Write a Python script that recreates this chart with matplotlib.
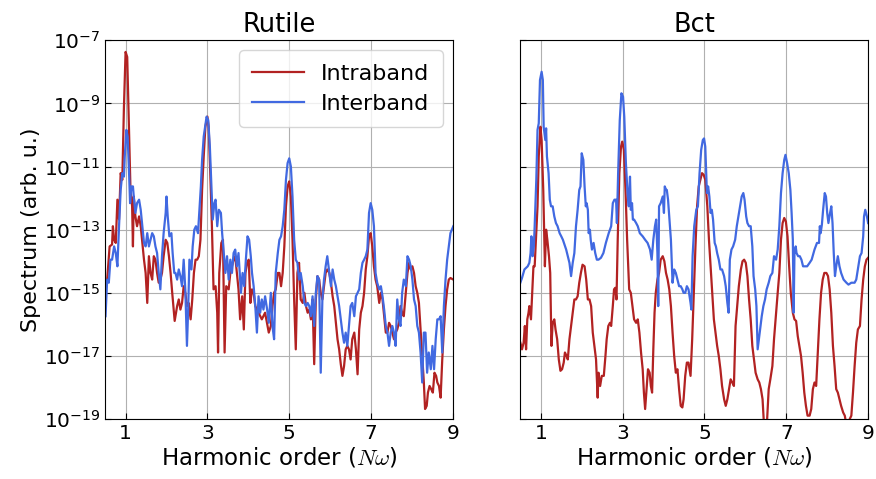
import matplotlib

matplotlib.use("Agg")
import matplotlib.pyplot as plt
import numpy as np

plt.rcParams["font.family"] = ["DejaVu Sans"]
plt.rcParams["mathtext.fontset"] = "cm"

TITLES = ["Rutile", "Bct"]
LABELS = ["Intraband", "Interband"]
COLORS = ["#b22222", "#4169e1"]

# Rutile, intraband (x in harmonic order, y as log10 of spectrum)
rut_intra_x = [0.50, 0.55, 0.61, 0.67, 0.69, 0.72, 0.76, 0.80, 0.84, 0.88, 0.92, 0.96, 1.00, 1.04, 1.08, 1.12,
               1.16, 1.18, 1.20, 1.24, 1.28, 1.33, 1.37, 1.41, 1.45, 1.49, 1.53, 1.57, 1.61, 1.65, 1.69, 1.73,
               1.77, 1.81, 1.85, 1.89, 1.93, 1.98, 2.02, 2.06, 2.10, 2.14, 2.20, 2.26, 2.30, 2.34, 2.38, 2.42,
               2.46, 2.50, 2.54, 2.59, 2.63, 2.67, 2.71, 2.75, 2.79, 2.83, 2.87, 2.91, 2.95, 3.00, 3.03, 3.07,
               3.11, 3.15, 3.20, 3.24, 3.26, 3.29, 3.34, 3.38, 3.42, 3.46, 3.52, 3.56, 3.60, 3.64, 3.68, 3.72,
               3.76, 3.80, 3.85, 3.89, 3.93, 3.97, 4.01, 4.05, 4.09, 4.13, 4.17, 4.25, 4.33, 4.41, 4.50, 4.55,
               4.59, 4.63, 4.67, 4.72, 4.76, 4.80, 4.84, 4.88, 4.92, 4.96, 5.00, 5.04, 5.08, 5.12, 5.16, 5.20,
               5.24, 5.28, 5.33, 5.37, 5.41, 5.45, 5.49, 5.53, 5.57, 5.61, 5.65, 5.69, 5.73, 5.77, 5.81, 5.85,
               5.89, 5.93, 5.98, 6.02, 6.06, 6.10, 6.14, 6.18, 6.22, 6.26, 6.30, 6.34, 6.38, 6.42, 6.46, 6.50,
               6.54, 6.59, 6.63, 6.67, 6.71, 6.75, 6.79, 6.83, 6.87, 6.91, 6.95, 6.99, 7.03, 7.07, 7.11, 7.15,
               7.20, 7.24, 7.28, 7.32, 7.36, 7.40, 7.44, 7.48, 7.52, 7.56, 7.60, 7.64, 7.68, 7.72, 7.76, 7.80,
               7.85, 7.89, 7.93, 7.97, 8.01, 8.05, 8.09, 8.13, 8.17, 8.21, 8.25, 8.29, 8.32, 8.36, 8.39, 8.43,
               8.47, 8.51, 8.55, 8.59, 8.62, 8.66, 8.70, 8.74, 8.78, 8.82, 8.86, 8.90, 8.94, 9.01]
rut_intra_exp = [-15.0, -14.58, -13.53, -13.47, -12.89, -13.32, -13.42, -12.05, -12.68, -11.21, -11.42, -9.11,
                 -7.37, -7.53, -9.63, -11.74, -12.26, -13.53, -11.95, -12.58, -12.89, -12.58, -12.89, -13.42,
                 -13.95, -14.37, -15.32, -13.84, -14.37, -14.58, -13.84, -13.95, -14.37, -14.68, -14.58, -14.37,
                 -13.84, -13.32, -13.42, -13.84, -14.37, -15.0, -15.89, -15.42, -15.21, -15.53, -15.32, -14.79,
                 -15.0, -15.42, -15.32, -15.84, -15.21, -14.37, -13.95, -13.95, -13.84, -13.32, -11.74, -10.68,
                 -9.74, -9.42, -9.74, -11.21, -12.89, -14.89, -14.79, -15.63, -16.89, -14.37, -13.42, -13.32,
                 -16.89, -14.79, -14.89, -14.37, -14.16, -13.95, -13.84, -14.37, -14.89, -15.84, -15.11, -16.16,
                 -14.37, -14.05, -13.95, -15.32, -14.89, -15.0, -15.42, -15.63, -15.84, -15.63, -16.26, -16.05,
                 -15.42, -15.0, -14.89, -14.37, -14.37, -14.79, -14.37, -13.53, -12.26, -11.63, -11.47, -11.95,
                 -13.32, -15.21, -16.79, -14.37, -14.05, -15.21, -15.32, -15.0, -15.42, -15.63, -15.53, -15.84,
                 -15.21, -17.26, -15.21, -14.47, -14.58, -15.0, -15.21, -14.79, -14.37, -14.26, -14.37, -14.68,
                 -15.11, -15.42, -15.95, -16.47, -16.79, -17.26, -17.63, -17.32, -16.79, -16.68, -16.79, -17.11,
                 -16.47, -16.26, -16.79, -17.58, -16.16, -15.63, -15.42, -15.0, -14.26, -13.84, -13.21, -13.11,
                 -13.53, -14.16, -14.58, -14.79, -15.32, -15.0, -15.21, -15.74, -16.26, -16.26, -15.95, -16.05,
                 -16.26, -16.47, -16.26, -16.16, -15.95, -15.42, -15.63, -15.74, -15.0, -14.37, -14.05, -14.26,
                 -14.16, -14.37, -14.79, -15.0, -15.32, -16.16, -17.0, -17.84, -18.68, -18.58, -18.16, -17.95,
                 -18.05, -18.16, -17.53, -17.63, -17.84, -17.95, -18.32, -17.11, -16.16, -15.42, -14.89, -14.58,
                 -14.53, -14.58]

# Rutile, interband
rut_inter_x = [0.51, 0.55, 0.59, 0.63, 0.67, 0.72, 0.76, 0.80, 0.84, 0.88, 0.92, 0.96, 0.98, 1.02, 1.05, 1.08,
               1.11, 1.14, 1.18, 1.20, 1.24, 1.28, 1.33, 1.37, 1.41, 1.45, 1.49, 1.53, 1.57, 1.61, 1.65, 1.69,
               1.73, 1.77, 1.81, 1.85, 1.89, 1.93, 1.98, 2.00, 2.03, 2.07, 2.12, 2.15, 2.19, 2.22, 2.26, 2.30,
               2.34, 2.38, 2.42, 2.46, 2.50, 2.53, 2.56, 2.61, 2.64, 2.68, 2.72, 2.77, 2.80, 2.84, 2.87, 2.91,
               2.98, 3.02, 3.06, 3.10, 3.13, 3.17, 3.20, 3.24, 3.28, 3.33, 3.36, 3.40, 3.44, 3.48, 3.52, 3.56,
               3.60, 3.64, 3.68, 3.72, 3.76, 3.82, 3.86, 3.90, 3.94, 3.98, 4.02, 4.06, 4.09, 4.13, 4.17, 4.21,
               4.25, 4.29, 4.33, 4.37, 4.41, 4.46, 4.50, 4.55, 4.59, 4.63, 4.67, 4.72, 4.76, 4.80, 4.84, 4.88,
               4.92, 4.96, 5.00, 5.04, 5.08, 5.12, 5.16, 5.20, 5.24, 5.28, 5.33, 5.37, 5.41, 5.45, 5.49, 5.53,
               5.57, 5.61, 5.65, 5.69, 5.73, 5.77, 5.81, 5.85, 5.89, 5.93, 5.98, 6.02, 6.06, 6.10, 6.14, 6.18,
               6.22, 6.26, 6.30, 6.34, 6.38, 6.42, 6.46, 6.50, 6.54, 6.59, 6.63, 6.67, 6.71, 6.75, 6.79, 6.83,
               6.87, 6.91, 6.95, 6.99, 7.03, 7.07, 7.11, 7.15, 7.20, 7.24, 7.28, 7.32, 7.36, 7.40, 7.44, 7.48,
               7.52, 7.56, 7.60, 7.64, 7.68, 7.72, 7.76, 7.80, 7.85, 7.89, 7.93, 7.97, 8.01, 8.05, 8.09, 8.13,
               8.17, 8.21, 8.25, 8.29, 8.33, 8.37, 8.41, 8.46, 8.50, 8.54, 8.58, 8.62, 8.66, 8.70, 8.74, 8.78,
               8.82, 8.86, 8.90, 8.94, 9.01]
rut_inter_exp = [-15.74, -14.58, -14.68, -13.95, -13.95, -13.53, -13.74, -14.16, -12.89, -11.74, -11.21, -11.32,
                 -10.68, -9.84, -10.05, -11.0, -12.16, -11.63, -11.63, -11.95, -12.47, -12.16, -12.05, -12.37,
                 -12.89, -13.42, -13.53, -13.11, -13.53, -13.32, -13.11, -13.21, -13.53, -13.74, -14.37, -14.89,
                 -13.84, -13.11, -12.47, -11.95, -12.58, -13.21, -13.11, -13.74, -14.37, -14.37, -14.58, -14.26,
                 -14.47, -14.79, -13.95, -14.89, -16.68, -15.53, -13.95, -14.26, -13.53, -13.0, -12.89, -13.11,
                 -12.47, -11.63, -10.79, -10.05, -9.42, -9.53, -10.37, -11.74, -12.68, -12.16, -12.05, -12.89,
                 -12.37, -12.47, -13.11, -13.74, -14.37, -13.84, -14.58, -13.95, -14.37, -13.74, -13.63, -14.16,
                 -13.74, -15.0, -14.37, -14.79, -13.95, -13.21, -13.32, -13.84, -14.37, -14.79, -15.42, -16.26,
                 -15.11, -15.63, -15.21, -15.53, -15.11, -15.53, -15.95, -15.0, -16.05, -16.47, -14.37, -13.74,
                 -13.32, -13.21, -12.89, -12.37, -11.42, -10.89, -10.74, -11.0, -11.95, -13.32, -13.95, -14.05,
                 -14.58, -14.37, -14.79, -15.32, -15.42, -15.32, -15.42, -15.74, -15.11, -16.05, -15.0, -14.47,
                 -14.58, -17.53, -15.21, -14.58, -14.16, -13.84, -14.37, -14.79, -14.26, -14.58, -14.79, -15.11,
                 -15.42, -15.84, -16.26, -16.58, -16.26, -16.68, -16.05, -15.42, -15.32, -15.74, -15.11, -15.0,
                 -14.89, -14.37, -14.05, -13.95, -13.84, -13.63, -12.47, -12.16, -12.37, -12.89, -14.37, -14.68,
                 -14.89, -14.79, -15.11, -15.53, -16.05, -16.26, -16.68, -16.26, -16.05, -16.26, -16.68, -15.21,
                 -15.84, -16.05, -15.0, -14.58, -14.79, -13.84, -13.95, -14.16, -14.58, -15.21, -15.42, -16.05,
                 -16.26, -16.89, -17.84, -16.26, -16.26, -17.53, -16.89, -17.42, -16.68, -17.42, -16.47, -15.84,
                 -15.84, -15.74, -16.89, -15.42, -14.58, -13.95, -13.53, -13.11, -12.89]

# Bct, intraband
bct_intra_x = [0.50, 0.54, 0.58, 0.61, 0.64, 0.67, 0.70, 0.72, 0.76, 0.79, 0.82, 0.85, 0.89, 0.92, 0.95, 0.99,
               1.02, 1.06, 1.10, 1.13, 1.16, 1.20, 1.23, 1.26, 1.29, 1.33, 1.36, 1.40, 1.44, 1.48, 1.52, 1.56,
               1.59, 1.63, 1.66, 1.70, 1.74, 1.78, 1.82, 1.86, 1.90, 1.94, 1.98, 2.02, 2.07, 2.11, 2.15, 2.19,
               2.23, 2.27, 2.31, 2.35, 2.39, 2.41, 2.45, 2.49, 2.54, 2.58, 2.61, 2.65, 2.69, 2.72, 2.76, 2.79,
               2.82, 2.85, 2.88, 2.92, 2.96, 2.99, 3.03, 3.07, 3.11, 3.16, 3.20, 3.24, 3.28, 3.33, 3.37, 3.41,
               3.45, 3.49, 3.52, 3.55, 3.59, 3.62, 3.66, 3.69, 3.72, 3.75, 3.78, 3.81, 3.85, 3.89, 3.93, 3.98,
               4.02, 4.06, 4.10, 4.14, 4.18, 4.22, 4.26, 4.30, 4.34, 4.38, 4.42, 4.46, 4.49, 4.53, 4.57, 4.61,
               4.66, 4.70, 4.74, 4.78, 4.82, 4.86, 4.90, 4.94, 4.98, 5.02, 5.07, 5.11, 5.15, 5.19, 5.23, 5.27,
               5.31, 5.35, 5.39, 5.43, 5.48, 5.52, 5.56, 5.60, 5.64, 5.68, 5.72, 5.76, 5.80, 5.84, 5.89, 5.93,
               5.97, 6.01, 6.05, 6.09, 6.13, 6.17, 6.21, 6.25, 6.30, 6.34, 6.38, 6.42, 6.46, 6.52, 6.57, 6.61,
               6.66, 6.70, 6.75, 6.79, 6.83, 6.87, 6.91, 6.95, 6.99, 7.03, 7.07, 7.11, 7.16, 7.20, 7.24, 7.28,
               7.32, 7.36, 7.40, 7.44, 7.48, 7.52, 7.57, 7.61, 7.65, 7.69, 7.73, 7.77, 7.81, 7.85, 7.89, 7.93,
               7.98, 8.02, 8.06, 8.10, 8.14, 8.18, 8.22, 8.26, 8.30, 8.34, 8.39, 8.43, 8.47, 8.51, 8.55, 8.59,
               8.63, 8.67, 8.71, 8.75, 8.80, 8.84, 8.88, 8.92, 8.96, 9.00]
bct_intra_exp = [-16.58, -16.79, -16.58, -16.05, -16.79, -15.84, -15.63, -15.42, -15.84, -15.0, -14.16, -14.16,
                 -13.11, -12.26, -10.68, -9.74, -10.16, -11.74, -14.16, -13.0, -13.32, -13.84, -14.37, -16.68,
                 -15.95, -15.84, -16.16, -16.47, -17.11, -17.47, -17.42, -17.21, -16.89, -17.0, -17.11, -16.47,
                 -16.05, -15.63, -15.21, -15.21, -15.11, -14.68, -14.37, -14.11, -14.16, -14.58, -15.21, -15.21,
                 -15.42, -16.26, -16.68, -17.11, -18.32, -17.53, -17.95, -17.63, -17.63, -17.0, -16.47, -16.05,
                 -15.95, -16.05, -15.42, -14.89, -14.84, -15.21, -13.32, -11.21, -10.37, -10.21, -10.47, -11.74,
                 -13.32, -14.89, -15.0, -15.42, -15.84, -15.95, -15.84, -16.26, -16.89, -17.42, -18.16, -18.68,
                 -17.95, -17.42, -17.53, -17.95, -18.16, -16.79, -15.63, -15.0, -14.58, -14.37, -13.95, -13.84,
                 -14.0, -14.37, -14.58, -14.89, -15.42, -16.26, -17.0, -17.53, -17.42, -18.05, -18.58, -18.63,
                 -18.37, -17.63, -17.21, -17.21, -17.63, -16.47, -15.0, -13.53, -12.26, -11.63, -11.42, -11.21,
                 -11.26, -11.42, -12.26, -13.32, -14.16, -15.0, -15.84, -16.26, -16.68, -17.0, -17.42, -17.95,
                 -18.37, -18.58, -18.37, -18.05, -17.74, -17.84, -17.95, -16.05, -15.42, -14.79, -14.26, -14.0,
                 -13.95, -14.05, -14.47, -15.21, -15.84, -16.68, -17.11, -17.53, -17.74, -17.84, -18.05, -18.37,
                 -19.3, -19.3, -18.05, -17.74, -17.32, -16.47, -15.63, -15.0, -14.37, -13.32, -12.79, -12.63,
                 -12.74, -13.21, -14.16, -15.0, -15.63, -15.84, -15.89, -16.37, -16.68, -17.0, -17.53, -18.16,
                 -18.58, -18.89, -18.89, -18.68, -18.05, -17.84, -17.95, -16.89, -15.84, -15.0, -14.58, -14.37,
                 -14.37, -14.47, -14.89, -15.63, -16.68, -17.32, -18.05, -18.16, -18.37, -18.58, -18.79, -18.89,
                 -19.2, -19.2, -19.0, -18.89, -18.16, -17.32, -16.58, -16.16, -16.05, -15.21, -14.58, -14.16,
                 -13.95, -13.89]

# Bct, interband
bct_inter_x = [0.50, 0.54, 0.60, 0.68, 0.72, 0.75, 0.77, 0.80, 0.83, 0.85, 0.89, 0.92, 0.95, 0.98, 1.02, 1.05,
               1.07, 1.11, 1.13, 1.15, 1.19, 1.22, 1.25, 1.29, 1.33, 1.37, 1.41, 1.46, 1.50, 1.54, 1.58, 1.62,
               1.66, 1.70, 1.74, 1.78, 1.82, 1.86, 1.90, 1.94, 1.97, 2.00, 2.04, 2.07, 2.10, 2.12, 2.15, 2.17,
               2.20, 2.22, 2.25, 2.29, 2.33, 2.37, 2.41, 2.47, 2.53, 2.59, 2.66, 2.72, 2.76, 2.80, 2.84, 2.86,
               2.89, 2.93, 2.97, 3.01, 3.04, 3.08, 3.12, 3.15, 3.18, 3.20, 3.23, 3.25, 3.28, 3.33, 3.37, 3.42,
               3.49, 3.55, 3.61, 3.67, 3.71, 3.75, 3.79, 3.82, 3.85, 3.87, 3.89, 3.93, 3.98, 4.01, 4.03, 4.06,
               4.08, 4.11, 4.15, 4.18, 4.22, 4.26, 4.30, 4.34, 4.38, 4.42, 4.46, 4.49, 4.53, 4.57, 4.61, 4.66,
               4.68, 4.71, 4.75, 4.80, 4.84, 4.88, 4.92, 4.96, 4.99, 5.02, 5.06, 5.09, 5.12, 5.15, 5.18, 5.21,
               5.25, 5.28, 5.31, 5.35, 5.39, 5.43, 5.48, 5.52, 5.56, 5.59, 5.62, 5.66, 5.70, 5.75, 5.79, 5.83,
               5.87, 5.91, 5.95, 5.98, 6.02, 6.05, 6.09, 6.13, 6.17, 6.20, 6.24, 6.27, 6.30, 6.33, 6.36, 6.40,
               6.44, 6.48, 6.52, 6.57, 6.61, 6.66, 6.70, 6.75, 6.79, 6.83, 6.87, 6.91, 6.95, 6.98, 7.02, 7.06,
               7.10, 7.13, 7.16, 7.18, 7.20, 7.23, 7.25, 7.29, 7.33, 7.37, 7.41, 7.46, 7.51, 7.57, 7.62, 7.69,
               7.75, 7.80, 7.82, 7.84, 7.87, 7.90, 7.94, 7.97, 8.00, 8.03, 8.07, 8.10, 8.13, 8.16, 8.19, 8.22,
               8.26, 8.30, 8.34, 8.40, 8.47, 8.52, 8.59, 8.67, 8.71, 8.75, 8.80, 8.84, 8.88, 8.90, 8.93, 8.97,
               9.00]
bct_inter_exp = [-14.68, -14.53, -14.26, -14.16, -14.05, -13.74, -13.21, -13.84, -13.53, -12.89, -11.42, -9.84,
                 -9.63, -8.26, -8.0, -8.26, -9.74, -10.16, -9.79, -10.68, -11.21, -12.05, -12.26, -12.26, -12.58,
                 -12.79, -12.89, -13.11, -13.21, -13.32, -13.47, -13.63, -13.84, -14.05, -14.47, -14.05, -13.74,
                 -12.89, -12.37, -11.74, -11.63, -10.58, -10.79, -11.63, -12.26, -12.16, -12.37, -13.11, -13.0,
                 -13.32, -13.63, -13.42, -13.74, -13.95, -13.95, -13.89, -13.74, -13.42, -13.11, -12.89, -12.16,
                 -12.05, -12.05, -12.79, -11.21, -9.53, -8.68, -8.79, -9.42, -10.89, -11.84, -12.26, -11.32, -12.37,
                 -12.16, -12.68, -12.68, -12.79, -12.89, -13.11, -13.21, -13.32, -13.42, -13.63, -13.95, -13.32,
                 -12.89, -12.68, -13.74, -15.42, -12.26, -12.16, -11.95, -12.47, -11.63, -11.74, -11.74, -12.05,
                 -12.79, -13.32, -14.68, -14.26, -14.37, -14.58, -14.79, -14.79, -14.89, -15.0, -15.0, -14.79,
                 -14.89, -15.32, -15.53, -13.84, -12.89, -12.37, -12.26, -11.21, -10.47, -10.16, -10.11, -10.37,
                 -11.84, -11.63, -11.95, -12.47, -12.37, -12.68, -13.42, -13.53, -13.74, -13.95, -14.26, -14.26,
                 -14.47, -14.79, -15.32, -15.63, -13.95, -13.63, -13.53, -13.32, -12.89, -12.58, -12.26, -11.95,
                 -11.84, -12.05, -12.58, -12.79, -12.89, -12.89, -13.53, -14.47, -14.89, -15.42, -16.79, -16.47,
                 -16.16, -15.74, -15.42, -15.21, -14.89, -14.68, -14.47, -14.37, -13.84, -13.95, -13.63, -12.89,
                 -11.84, -11.21, -10.79, -10.63, -10.89, -11.21, -11.74, -12.47, -13.32, -15.63, -13.74, -13.53,
                 -13.74, -13.84, -13.84, -13.95, -14.16, -14.16, -14.16, -14.05, -13.95, -13.63, -13.42, -13.42,
                 -12.89, -13.11, -12.84, -12.37, -11.84, -11.95, -12.47, -12.79, -12.47, -12.26, -12.79, -13.74,
                 -14.47, -14.16, -13.84, -14.16, -14.37, -14.58, -14.68, -14.74, -14.68, -14.68, -14.58, -14.26,
                 -13.84, -13.74, -13.21, -12.58, -12.37, -12.58, -12.79]

panels = [
    (TITLES[0], rut_intra_x, rut_intra_exp, rut_inter_x, rut_inter_exp),
    (TITLES[1], bct_intra_x, bct_intra_exp, bct_inter_x, bct_inter_exp),
]

fig = plt.figure(figsize=(8.76, 4.79), dpi=100)
ax_left = fig.add_axes([0.120, 0.125, 0.397, 0.791])
ax_right = fig.add_axes([0.594, 0.125, 0.397, 0.791], sharey=ax_left)

for ax, (title, xa, ya, xb, yb) in zip([ax_left, ax_right], panels):
    ax.plot(xa, 10.0 ** np.array(ya), color=COLORS[0], lw=1.6, label=LABELS[0])
    ax.plot(xb, 10.0 ** np.array(yb), color=COLORS[1], lw=1.6, label=LABELS[1])
    ax.set_yscale("log")
    ax.set_xlim(0.5, 9)
    ax.set_ylim(1e-19, 1e-7)
    ax.set_xticks([1, 3, 5, 7, 9])
    ax.set_yticks([10.0 ** e for e in range(-19, -6, 2)])
    ax.minorticks_off()
    ax.tick_params(direction="in", labelsize=14.5, length=4)
    ax.grid(True, color="#b0b0b0", lw=0.8)
    ax.set_axisbelow(True)
    ax.set_title(title, fontsize=18.5)
    ax.set_xlabel(r"Harmonic order ($N\omega$)", fontsize=16.5, labelpad=2)

ax_right.tick_params(labelleft=False)
ax_left.set_ylabel("Spectrum (arb. u.)", fontsize=16, labelpad=2)
ax_left.legend(loc="upper right", fontsize=16, borderaxespad=0.45, borderpad=0.6,
               handlelength=2.3, labelspacing=0.45)

fig.savefig("out.png", dpi=100)
